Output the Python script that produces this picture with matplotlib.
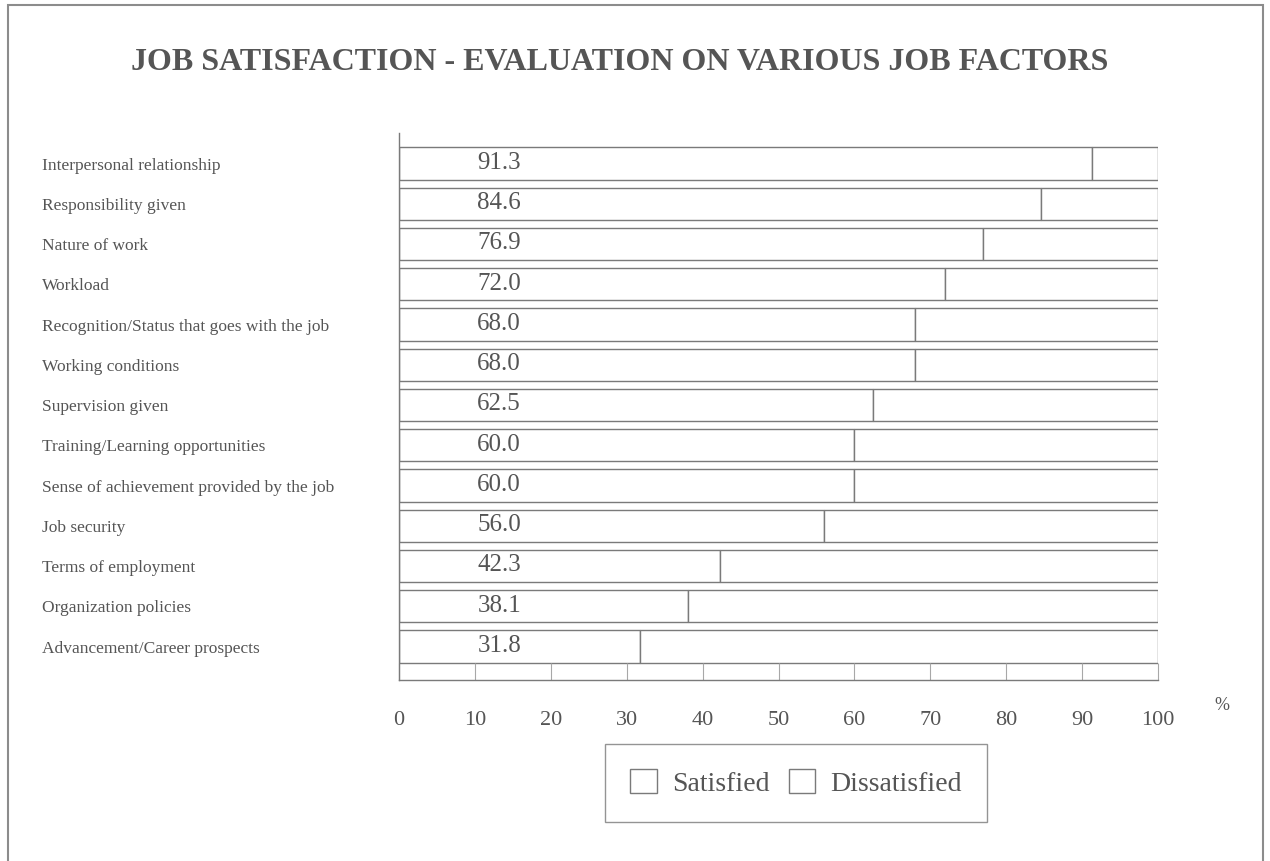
import matplotlib
matplotlib.use("Agg")
import matplotlib.pyplot as plt
from matplotlib.patches import Rectangle

plt.rcParams['font.family'] = ['Liberation Serif', 'DejaVu Serif']

# data, top row first
factors = [
	"Interpersonal relationship",
	"Responsibility given",
	"Nature of work",
	"Workload",
	"Recognition/Status that goes with the job",
	"Working conditions",
	"Supervision given",
	"Training/Learning opportunities",
	"Sense of achievement provided by the job",
	"Job security",
	"Terms of employment",
	"Organization policies",
	"Advancement/Career prospects",
]
satisfied = [91.3, 84.6, 76.9, 72.0, 68.0, 68.0, 62.5, 60.0, 60.0, 56.0, 42.3, 38.1, 31.8]
dissatisfied = [round(100 - s, 1) for s in satisfied]
x_ticks = [0, 10, 20, 30, 40, 50, 60, 70, 80, 90, 100]

text_col = "#555555"
line_col = "#7a7a7a"

fig = plt.figure(figsize=(12.7, 8.61), dpi=100)
fig.patch.set_facecolor("white")

# scanned page frame
fig.patches.append(Rectangle((8 / 1270, -0.05), 1255 / 1270, 1.05 - 5 / 861,
                             transform=fig.transFigure, fill=False,
                             edgecolor="#8c8c8c", linewidth=1.5))

fig.text(0.488, 1 - 62 / 861, "JOB SATISFACTION - EVALUATION ON VARIOUS JOB FACTORS",
         ha="center", va="center", fontsize=23, fontweight="bold", color=text_col)

ax = fig.add_axes([399 / 1270, 1 - 680 / 861, 759 / 1270, 547 / 861])

ypos = list(range(len(factors)))
b1 = ax.barh(ypos, satisfied, height=0.8, color="white", edgecolor=line_col,
             linewidth=1.0, label="Satisfied")
b2 = ax.barh(ypos, dissatisfied, left=satisfied, height=0.8, color="white",
             edgecolor=line_col, linewidth=1.0, label="Dissatisfied")

for y, v in zip(ypos, satisfied):
	ax.text(13.2, y - 0.02, f"{v:.1f}", ha="center", va="center",
	        fontsize=18, color=text_col)

ax.set_xlim(0, 100)
ax.set_ylim(12.83, -0.76)

ax.set_yticks(ypos)
ax.set_yticklabels(factors, ha="left", fontsize=12.5, color=text_col)
ax.tick_params(axis="y", length=0, pad=257)

ax.set_xticks(x_ticks)
ax.set_xticklabels([str(t) for t in x_ticks], fontsize=16, color=text_col)
ax.tick_params(axis="x", direction="in", length=12, width=0.8, color="#a8a8a8", pad=22)

for side in ["top", "right"]:
	ax.spines[side].set_visible(False)
for side in ["left", "bottom"]:
	ax.spines[side].set_color(line_col)
	ax.spines[side].set_linewidth(1.0)

fig.text(1222 / 1270, 1 - 705 / 861, "%", ha="center", va="center",
         fontsize=13, color=text_col)

leg = fig.legend(handles=[b1, b2], labels=["Satisfied", "Dissatisfied"],
                 loc="center", bbox_to_anchor=(796 / 1270, 1 - 783 / 861),
                 ncol=2, fontsize=20, frameon=True, fancybox=False,
                 handlelength=0.95, handleheight=0.95, handletextpad=0.55,
                 columnspacing=0.7, borderpad=0.9, labelcolor=text_col)
leg.get_frame().set_edgecolor(line_col)
leg.get_frame().set_linewidth(1.0)

fig.savefig("out.png", dpi=100)
